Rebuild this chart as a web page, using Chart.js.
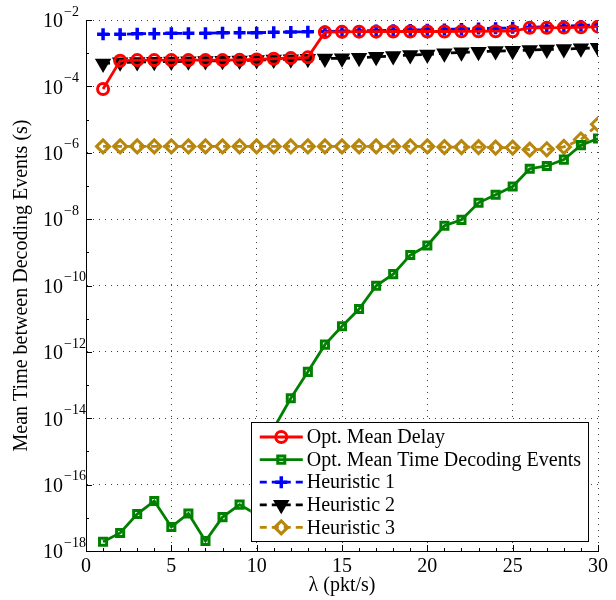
<!DOCTYPE html>
<html>
<head>
<meta charset="utf-8">
<script src="https://cdn.jsdelivr.net/npm/chart.js@4.4.1/dist/chart.umd.min.js"></script>
<style>
  html, body { margin: 0; padding: 0; background: #fff; }
  canvas { display: block; }
</style>
</head>
<body>
<canvas id="chart" width="616" height="600"></canvas>
<script>
// lambda (pkt/s) values on the x axis
const lambdaVals = [1, 2, 3, 4, 5, 6, 7, 8, 9, 10, 11, 12, 13, 14, 15,
                    16, 17, 18, 19, 20, 21, 22, 23, 24, 25, 26, 27, 28, 29, 30];

// series values (seconds)
const optMeanDelay = [8.3e-5, 5.9e-4, 6.2e-4, 6.2e-4, 6.2e-4, 6.2e-4, 6.2e-4, 6.2e-4, 6.3e-4, 6.5e-4,
                      6.8e-4, 7.1e-4, 7.5e-4, 4.3e-3, 4.4e-3, 4.45e-3, 4.45e-3, 4.5e-3, 4.5e-3, 4.5e-3,
                      4.5e-3, 4.55e-3, 4.55e-3, 4.6e-3, 4.6e-3, 5.8e-3, 5.8e-3, 5.9e-3, 6.0e-3, 6.3e-3];
const optMeanTimeDec = [1.9e-18, 3.5e-18, 1.3e-17, 3.2e-17, 5.3e-18, 1.35e-17, 2.0e-18, 1.05e-17, 2.5e-17, 1.26e-17,
                        5.0e-15, 4.0e-14, 2.5e-13, 1.65e-12, 5.9e-12, 1.95e-11, 9.8e-11, 2.2e-10, 8.3e-10, 1.6e-9,
                        6.3e-9, 9.5e-9, 3.1e-8, 5.4e-8, 9.6e-8, 3.3e-7, 4.0e-7, 6.2e-7, 1.7e-6, 2.7e-6];
const heuristic1 = [3.7e-3, 3.7e-3, 3.86e-3, 3.86e-3, 3.96e-3, 3.96e-3, 3.96e-3, 4.13e-3, 4.13e-3, 4.13e-3,
                    4.25e-3, 4.34e-3, 4.43e-3, 4.5e-3, 4.6e-3, 4.7e-3, 4.8e-3, 4.9e-3, 5.0e-3, 5.1e-3,
                    5.2e-3, 5.35e-3, 5.5e-3, 5.6e-3, 5.8e-3, 6.0e-3, 6.2e-3, 6.5e-3, 6.8e-3, 7.2e-3];
const heuristic2 = [4.9e-4, 5.3e-4, 5.4e-4, 5.5e-4, 5.6e-4, 5.7e-4, 5.8e-4, 5.9e-4, 6.0e-4, 6.2e-4,
                    6.4e-4, 6.6e-4, 6.8e-4, 6.9e-4, 7.0e-4, 7.3e-4, 7.8e-4, 8.2e-4, 8.8e-4, 9.2e-4,
                    9.9e-4, 1.06e-3, 1.1e-3, 1.16e-3, 1.18e-3, 1.24e-3, 1.3e-3, 1.33e-3, 1.4e-3, 1.46e-3];
const heuristic3 = [1.55e-6, 1.55e-6, 1.55e-6, 1.55e-6, 1.55e-6, 1.55e-6, 1.55e-6, 1.55e-6, 1.55e-6, 1.55e-6,
                    1.55e-6, 1.55e-6, 1.55e-6, 1.55e-6, 1.55e-6, 1.55e-6, 1.55e-6, 1.55e-6, 1.55e-6, 1.55e-6,
                    1.48e-6, 1.48e-6, 1.48e-6, 1.43e-6, 1.43e-6, 1.24e-6, 1.27e-6, 1.5e-6, 2.5e-6, 7.2e-6];

// axis ticks
const xTicks = [0, 5, 10, 15, 20, 25, 30];
const yTickExps = [-18, -16, -14, -12, -10, -8, -6, -4, -2];

const seriesNames = ['Opt. Mean Delay', 'Opt. Mean Time Decoding Events', 'Heuristic 1', 'Heuristic 2', 'Heuristic 3'];

const serif = '"Liberation Serif", "Times New Roman", serif';

function pts(vals) {
  return lambdaVals.map((x, i) => ({ x: x, y: vals[i] }));
}

// draws inward ticks, superscript y labels and the in-plot legend
const axisDecor = {
  id: 'axisDecor',
  afterDraw(chart) {
    const { ctx, chartArea: a, scales } = chart;
    const xs = scales.x, ys = scales.y;
    ctx.save();
    ctx.strokeStyle = '#000';
    ctx.lineWidth = 1;
    ctx.setLineDash([]);

    // x minor / major ticks, pointing into the plot
    for (let v = xs.min; v <= xs.max; v++) {
      const px = Math.round(xs.getPixelForValue(v)) + 0.5;
      const len = v % 5 === 0 ? 6 : 3;
      ctx.beginPath();
      ctx.moveTo(px, a.bottom);
      ctx.lineTo(px, a.bottom - len);
      ctx.stroke();
    }
    // y ticks at every decade
    for (let e = yTickExps[0]; e <= yTickExps[yTickExps.length - 1]; e++) {
      const py = Math.round(ys.getPixelForValue(Math.pow(10, e))) + 0.5;
      const len = e % 2 === 0 ? 6 : 3;
      ctx.beginPath();
      ctx.moveTo(a.left, py);
      ctx.lineTo(a.left + len, py);
      ctx.stroke();
    }

    // y labels as 10^e
    ctx.fillStyle = '#000';
    ctx.textAlign = 'left';
    ctx.textBaseline = 'middle';
    yTickExps.forEach(e => {
      const py = ys.getPixelForValue(Math.pow(10, e));
      ctx.font = '20px ' + serif;
      ctx.fillText('10', a.left - 43, py + 2);
      const w = ctx.measureText('10').width;
      ctx.font = '14px ' + serif;
      ctx.fillText('\u2212' + Math.abs(e), a.left - 43 + w + 1, py - 8);
    });

    // legend box in the lower right corner
    const dsets = chart.data.datasets;
    ctx.font = '20px ' + serif;
    let maxW = 0;
    dsets.forEach(d => { maxW = Math.max(maxW, ctx.measureText(d.label).width); });
    const boxW = 56 + maxW + 7;
    const boxH = 119;
    const bx = a.right - 10 - boxW;
    const by = a.bottom - 10 - boxH;
    ctx.fillStyle = '#fff';
    ctx.fillRect(bx, by, boxW, boxH);
    ctx.strokeStyle = '#000';
    ctx.lineWidth = 1;
    ctx.strokeRect(Math.round(bx) + 0.5, Math.round(by) + 0.5, Math.round(boxW), Math.round(boxH));

    dsets.forEach((d, i) => {
      const ry = by + 15 + i * 22.6;
      ctx.save();
      ctx.strokeStyle = d.borderColor;
      ctx.lineWidth = d.borderWidth;
      ctx.setLineDash(d.borderDash || []);
      ctx.beginPath();
      ctx.moveTo(bx + 9, ry);
      ctx.lineTo(bx + 52, ry);
      ctx.stroke();
      ctx.setLineDash([]);
      ctx.strokeStyle = d.pointBorderColor;
      ctx.fillStyle = d.pointBackgroundColor;
      ctx.lineWidth = d.pointBorderWidth;
      Chart.helpers.drawPoint(ctx, {
        pointStyle: d.pointStyle, rotation: d.pointRotation || 0,
        radius: d.pointRadius, borderWidth: d.pointBorderWidth
      }, bx + 30.5, ry);
      ctx.restore();
      ctx.fillStyle = '#000';
      ctx.textAlign = 'left';
      ctx.textBaseline = 'middle';
      ctx.font = '20px ' + serif;
      ctx.fillText(d.label, bx + 56, ry + 1);
    });
    ctx.restore();
  }
};

const red = '#ff0000', green = '#008000', blue = '#0000ff', black = '#000000', gold = '#b8860b';

new Chart(document.getElementById('chart'), {
  type: 'line',
  data: {
    datasets: [
      {
        label: seriesNames[0], data: pts(optMeanDelay), order: 0,
        borderColor: red, borderWidth: 2.8, pointStyle: 'circle', pointRadius: 5.5,
        pointBorderColor: red, pointBackgroundColor: 'rgba(0,0,0,0)', pointBorderWidth: 3
      },
      {
        label: seriesNames[1], data: pts(optMeanTimeDec), order: 1,
        borderColor: green, borderWidth: 2.8, pointStyle: 'rect', pointRadius: 5,
        pointBorderColor: green, pointBackgroundColor: 'rgba(0,0,0,0)', pointBorderWidth: 3
      },
      {
        label: seriesNames[2], data: pts(heuristic1), order: 2,
        borderColor: blue, borderWidth: 2.8, borderDash: [7, 5], pointStyle: 'cross', pointRadius: 6,
        pointBorderColor: blue, pointBackgroundColor: blue, pointBorderWidth: 3.5
      },
      {
        label: seriesNames[3], data: pts(heuristic2), order: 3,
        borderColor: black, borderWidth: 2.8, borderDash: [7, 5], pointStyle: 'triangle', pointRotation: 180,
        pointRadius: 7, pointBorderColor: black, pointBackgroundColor: black, pointBorderWidth: 2.5
      },
      {
        label: seriesNames[4], data: pts(heuristic3), order: 4,
        borderColor: gold, borderWidth: 2.8, borderDash: [7, 5], pointStyle: 'rectRot', pointRadius: 6.5,
        pointBorderColor: gold, pointBackgroundColor: 'rgba(0,0,0,0)', pointBorderWidth: 3
      }
    ]
  },
  options: {
    responsive: false,
    animation: false,
    devicePixelRatio: 1,
    layout: { padding: { left: 0, right: 18, top: 20, bottom: 0 } },
    plugins: { legend: { display: false }, tooltip: { enabled: false } },
    elements: { line: { tension: 0 } },
    scales: {
      x: {
        type: 'linear', min: 0, max: 30,
        afterBuildTicks: s => { s.ticks = xTicks.map(v => ({ value: v })); },
        afterFit: s => { s.height = 49; },
        ticks: { color: '#000', font: { family: serif, size: 20 }, padding: 4, maxRotation: 0 },
        grid: { color: 'rgba(0,0,0,0.75)', lineWidth: 1, drawTicks: false },
        border: { display: true, color: '#000', width: 1, dash: [1, 5] },
        title: { display: true, text: 'λ (pkt/s)', color: '#000', font: { family: serif, size: 20 }, padding: { top: 0, bottom: 2 } }
      },
      y: {
        type: 'logarithmic', min: 1e-18, max: 1e-2,
        afterBuildTicks: s => { s.ticks = yTickExps.map(e => ({ value: Math.pow(10, e) })); },
        afterFit: s => { s.width = 86; },
        ticks: { display: false },
        grid: { color: 'rgba(0,0,0,0.75)', lineWidth: 1, drawTicks: false },
        border: { display: true, color: '#000', width: 1, dash: [1, 5] },
        title: { display: true, text: 'Mean Time between Decoding Events (s)', color: '#000', font: { family: serif, size: 20 }, padding: { top: 10, bottom: 0 } }
      }
    }
  },
  plugins: [axisDecor]
});
</script>
</body>
</html>
